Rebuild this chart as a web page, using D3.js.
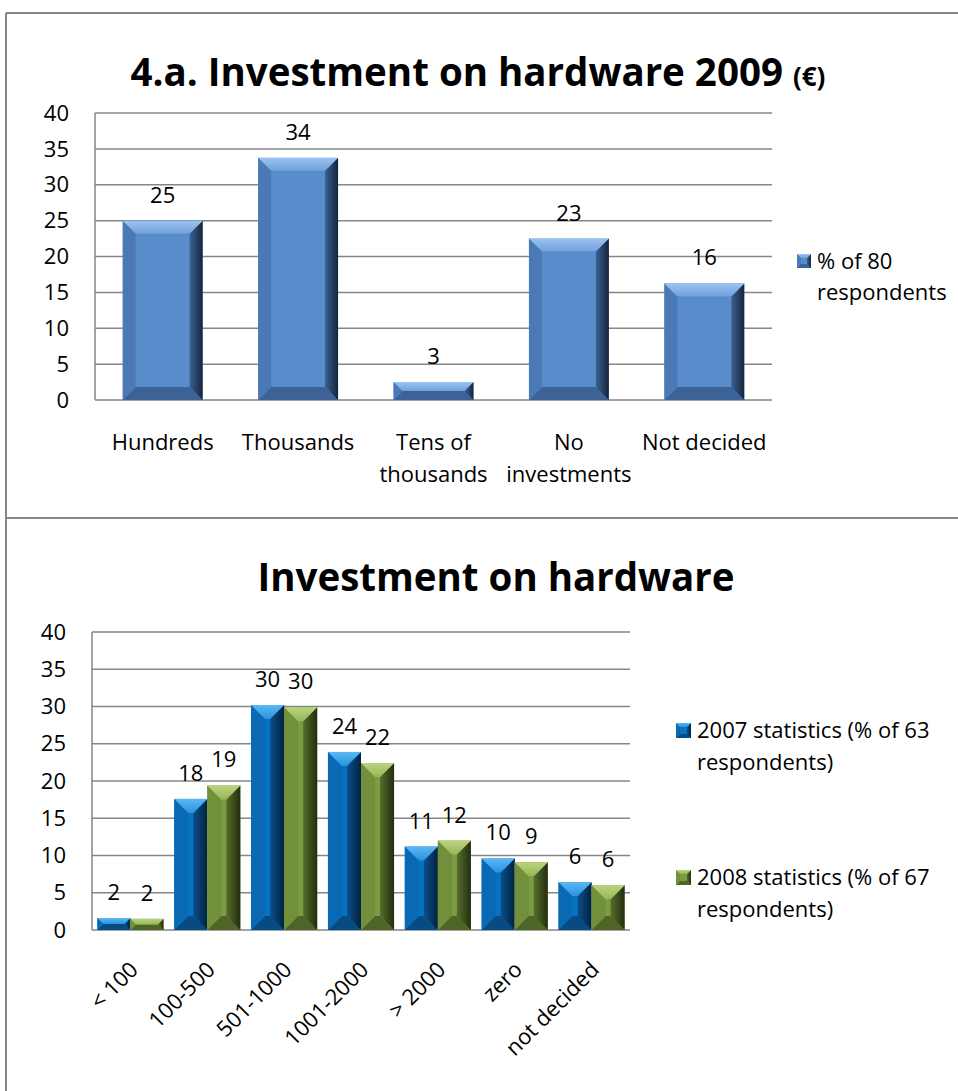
<!DOCTYPE html>
<html>
<head>
<meta charset="utf-8">
<script src="https://cdn.jsdelivr.net/npm/d3@7"></script>
<style>
  body { margin: 0; background: #fff; }
  text { font-family: "Open Sans", "Noto Sans", sans-serif; fill: #000; }
</style>
</head>
<body>
<div id="chart"></div>
<script>
// chart 1 data
var cat1 = ["Hundreds", "Thousands", "Tens of thousands", "No investments", "Not decided"];
var cat1Lines = [["Hundreds"], ["Thousands"], ["Tens of", "thousands"], ["No", "investments"], ["Not decided"]];
var pct1 = [25, 33.75, 2.5, 22.5, 16.25];
var legend1 = ["% of 80", "respondents"];

// chart 2 data
var cat2 = ["< 100", "100-500", "501-1000", "1001-2000", "> 2000", "zero", "not decided"];
var stat2007 = [1.6, 17.6, 30.2, 23.9, 11.2, 9.6, 6.4];
var stat2008 = [1.5, 19.4, 29.9, 22.4, 12.0, 9.1, 6.0];
var series2 = ["2007", "2008"];
var legend2 = [["2007 statistics (% of 63", "respondents)"], ["2008 statistics (% of 67", "respondents)"]];

var yTicks = [0, 5, 10, 15, 20, 25, 30, 35, 40];

var W = 958, H = 1091;
var svg = d3.select("#chart").append("svg").attr("width", W).attr("height", H);
var defs = svg.append("defs");

// bevel palettes (blue 2009, blue 2007, green 2008)
var pal = {
  b1: { c: "#588CCB", t1: "#9CC4F0", t2: "#6F9FDC", l: "#4B79B6", r1: "#3A6194", r2: "#15243A", bt: "#3D6296" },
  b2: { c: "#0872C2", t1: "#5BB8F4", t2: "#2A92DD", l: "#0A69B4", r1: "#0A4F8C", r2: "#03223F", bt: "#084A82" },
  g2: { c: "#7D9C42", t1: "#BAD47E", t2: "#97B658", l: "#728F3B", r1: "#566D2C", r2: "#232D0F", bt: "#4F6427" }
};
Object.keys(pal).forEach(function (k) {
  var p = pal[k];
  var gt = defs.append("linearGradient").attr("id", "top-" + k).attr("x1", 0).attr("y1", 0).attr("x2", 0).attr("y2", 1);
  gt.append("stop").attr("offset", 0).attr("stop-color", p.t1);
  gt.append("stop").attr("offset", 1).attr("stop-color", p.t2);
  var gr = defs.append("linearGradient").attr("id", "right-" + k).attr("x1", 0).attr("y1", 0).attr("x2", 1).attr("y2", 0);
  gr.append("stop").attr("offset", 0).attr("stop-color", p.r1);
  gr.append("stop").attr("offset", 1).attr("stop-color", p.r2);
});

function bevelBar(g, x, y, w, h, bev, k) {
  var p = pal[k];
  var b = Math.min(bev, w / 2, h / 2);
  var pts = function (a) { return a.map(function (d) { return d.join(","); }).join(" "); };
  g.append("rect").attr("x", x).attr("y", y).attr("width", w).attr("height", h).attr("fill", p.c);
  g.append("polygon").attr("points", pts([[x, y + h], [x + w, y + h], [x + w - b, y + h - b], [x + b, y + h - b]])).attr("fill", p.bt);
  g.append("polygon").attr("points", pts([[x, y], [x + b, y + b], [x + b, y + h - b], [x, y + h]])).attr("fill", p.l);
  g.append("polygon").attr("points", pts([[x + w, y], [x + w - b, y + b], [x + w - b, y + h - b], [x + w, y + h]])).attr("fill", "url(#right-" + k + ")");
  g.append("polygon").attr("points", pts([[x, y], [x + w, y], [x + w - b, y + b], [x + b, y + b]])).attr("fill", "url(#top-" + k + ")");
}

// frame
var frame = svg.append("g").attr("stroke", "#868686").attr("stroke-width", 2);
frame.append("line").attr("x1", 6).attr("x2", W).attr("y1", 13).attr("y2", 13);
frame.append("line").attr("x1", 6).attr("x2", 6).attr("y1", 13).attr("y2", H);
frame.append("line").attr("x1", 6).attr("x2", W).attr("y1", 518).attr("y2", 518);

var fs = 22;

// ---------- chart 1 ----------
var t1 = svg.append("text").attr("x", 478).attr("y", 86).attr("text-anchor", "middle")
  .attr("font-weight", "bold").attr("font-size", 38.5);
t1.append("tspan").text("4.a. Investment on hardware 2009 ");
t1.append("tspan").attr("font-size", 26).text("(€)");

var x1 = d3.scaleBand().domain(cat1).range([95, 772]).paddingInner(0.41).paddingOuter(0.205);
var y1 = d3.scaleLinear().domain([0, 40]).range([400, 113]);

var g1 = svg.append("g");
g1.selectAll("line.grid").data(yTicks).join("line")
  .attr("x1", 95).attr("x2", 772).attr("y1", function (d) { return y1(d); }).attr("y2", function (d) { return y1(d); })
  .attr("stroke", "#868686").attr("stroke-width", 1.5);
g1.append("line").attr("x1", 95).attr("x2", 95).attr("y1", y1(40)).attr("y2", y1(0)).attr("stroke", "#868686").attr("stroke-width", 1.5);
g1.selectAll("text.ytick").data(yTicks).join("text")
  .attr("x", 69).attr("y", function (d) { return y1(d); }).attr("dy", "0.35em")
  .attr("text-anchor", "end").attr("font-size", fs).text(function (d) { return d; });

cat1.forEach(function (c, i) {
  bevelBar(g1, x1(c), y1(pct1[i]), x1.bandwidth(), y1(0) - y1(pct1[i]), 13, "b1");
  g1.append("text").attr("x", x1(c) + x1.bandwidth() / 2).attr("y", y1(pct1[i]) - 18)
    .attr("text-anchor", "middle").attr("font-size", fs).text(Math.round(pct1[i]));
  var t = g1.append("text").attr("text-anchor", "middle").attr("font-size", fs);
  cat1Lines[i].forEach(function (ln, j) {
    t.append("tspan").attr("x", x1(c) + x1.bandwidth() / 2).attr("y", 450 + j * 32).text(ln);
  });
});

// legend 1
bevelBar(g1, 797, 254, 14, 14, 4, "b1");
legend1.forEach(function (ln, j) {
  g1.append("text").attr("x", 817).attr("y", 269 + j * 31).attr("font-size", fs).text(ln);
});

// ---------- chart 2 ----------
svg.append("text").attr("x", 496).attr("y", 591).attr("text-anchor", "middle")
  .attr("font-weight", "bold").attr("font-size", 38.5).text("Investment on hardware");

var x2 = d3.scaleBand().domain(cat2).range([92, 630]).paddingInner(0.14).paddingOuter(0.07);
var xs = d3.scaleBand().domain(series2).range([0, x2.bandwidth()]);
var y2 = d3.scaleLinear().domain([0, 40]).range([930, 632]);
var vals2 = { "2007": stat2007, "2008": stat2008 };
var keys2 = { "2007": "b2", "2008": "g2" };

var g2 = svg.append("g");
g2.selectAll("line.grid").data(yTicks).join("line")
  .attr("x1", 92).attr("x2", 630).attr("y1", function (d) { return y2(d); }).attr("y2", function (d) { return y2(d); })
  .attr("stroke", "#868686").attr("stroke-width", 1.5);
g2.append("line").attr("x1", 92).attr("x2", 92).attr("y1", y2(40)).attr("y2", y2(0)).attr("stroke", "#868686").attr("stroke-width", 1.5);
g2.selectAll("text.ytick").data(yTicks).join("text")
  .attr("x", 66).attr("y", function (d) { return y2(d); }).attr("dy", "0.35em")
  .attr("text-anchor", "end").attr("font-size", fs).text(function (d) { return d; });

cat2.forEach(function (c, i) {
  series2.forEach(function (s) {
    var v = vals2[s][i];
    var bx = x2(c) + xs(s);
    bevelBar(g2, bx, y2(v), xs.bandwidth(), y2(0) - y2(v), 14, keys2[s]);
    g2.append("text").attr("x", bx + xs.bandwidth() / 2).attr("y", y2(v) - 18)
      .attr("text-anchor", "middle").attr("font-size", fs).text(Math.round(v));
  });
  var cx = x2(c) + x2.bandwidth() / 2 + 9, cy = 971;
  g2.append("text").attr("transform", "translate(" + cx + "," + cy + ") rotate(-45)")
    .attr("text-anchor", "end").attr("font-size", fs).text(c);
});

// legend 2
var legY = [723, 870];
series2.forEach(function (s, i) {
  bevelBar(g2, 676, legY[i], 15, 15, 4, keys2[s]);
  legend2[i].forEach(function (ln, j) {
    g2.append("text").attr("x", 697).attr("y", legY[i] + 15 + j * 32).attr("font-size", fs).text(ln);
  });
});
</script>
</body>
</html>
